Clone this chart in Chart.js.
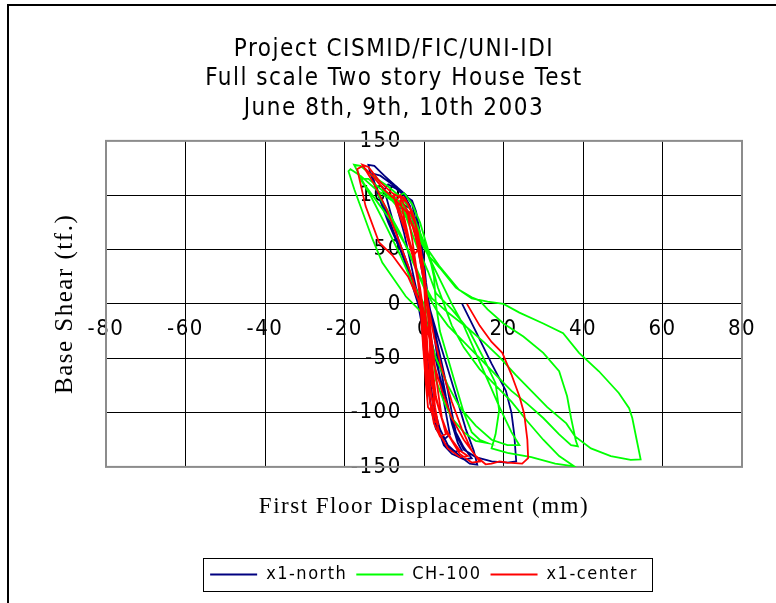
<!DOCTYPE html>
<html>
<head>
<meta charset="utf-8">
<script src="https://cdn.jsdelivr.net/npm/chart.js@4.4.1/dist/chart.umd.min.js"></script>
<style>
  body { margin: 0; background: #fff; }
  #wrap { position: relative; width: 776px; height: 603px; overflow: hidden; background: #fff; }
  #hysteresis { position: absolute; left: 0; top: 0; }
  #frame { position: absolute; left: 7px; top: 4px; width: 800px; height: 700px;
           border-left: 2px solid #000; border-top: 2px solid #000; }
</style>
</head>
<body>
<div id="wrap">
  <canvas id="hysteresis" width="776" height="603"></canvas>
  <div id="frame"></div>
</div>
<script>
// hysteresis loops: displacement (mm) vs base shear (tf)
const northX = [9.6, 13, 17, 20.6, 22, 22.7, 23.2, 21, 17, 13, 10, 8, 6, 3.5, 1.5, -1, -3, -6, -9, -11.5,
  -13.5, -14, -12.5, -10, -7, -4.5, -3, -2, -1.5, -0.5, 0.5, 1.5, 3.5, 6, 8.5, 10.5, 12.5, 13.4, 11.5, 9,
  6, 4, 2.5, 1.5, 0.5, -0.5, -2, -4, -6.5, -8.5, -10, -9, -7, -5, -3.5, -2.5, -1.2, 0, 1, 2.5,
  4, 5.5, 7, 8.5, 9.5, 7.5, 5, 3, 1.5, 0.8, 0, -1, -2, -3.5, -5, -6.5, -5.5, -3.5, -2, -1,
  0, 0.8, 2, 3, 4, 5.5, 6.5, 5, 3, 2, 1, 0, -0.5, -1.5,
  -4, -7, -10, -12.5, -13, -11, -8, -5, -3, -2, -1, 0, 0.5, 1.5, 3, 4.5, 6, 7, 8, 10,
  12, 10, 7, 5, 4, 3, 2, 1, 0.3, -0.5, -2, -3];
const northY = [0, -25, -55, -80, -100, -120, -145, -146, -145, -141, -134, -120, -95, -60, -28, 5, 25, 50, 75, 100,
  120, 128, 127, 118, 108, 100, 92, 75, 60, 35, 15, -5, -30, -60, -90, -115, -135, -148, -147, -140,
  -130, -115, -95, -70, -40, -15, 10, 35, 60, 85, 105, 110, 106, 100, 90, 70, 45, 20, 0, -25,
  -55, -85, -110, -128, -135, -136, -128, -112, -90, -60, -30, -5, 15, 40, 65, 85, 92, 88, 78, 60,
  35, 10, -15, -40, -70, -100, -120, -125, -115, -100, -75, -45, -20, 0,
  30, 60, 90, 112, 120, 118, 110, 100, 95, 85, 65, 40, 20, -5, -30, -55, -80, -100, -118, -132,
  -142, -143, -138, -130, -120, -105, -85, -60, -35, -10, 10, 25];

const ch100X = [0, -4.6, -8, -10.5, -13, -15.5, -17.5, -19, -18.5, -16,
  -12, -8, -5, -2.5, -0.5, 1, 4, 8, 12, 16,
  20, 24, 30, 35, 39, 44, 49, 51.6, 52.4, 53.5, 54.5,
  52, 47, 42, 38, 35.8, 31, 27, 23, 19, 15,
  10.6, 6, 2, -1, -4, -8, -12, -15, -17.6, -16,
  -13, -9, -5.5, -3, -2, 0.4, 3.8, 8.8, 12, 14,
  16, 20, 25, 30, 34, 36, 37, 38.2, 38.7, 37,
  34, 30, 26, 22, 18, 14, 10, 6, 3, 0,
  -3, -6, -9, -11.5, -10, -7, -4, -2, 0, 2,
  3.5, 5, 7, 10, 14, 18, 22, 26, 30, 34,
  37.8, 33, 27, 21, 17, 18, 18.9, 18, 15, 11.3,
  7, 3, 1, -2, -4.5, -6, -5, -3, -1, 1,
  2.5, 3, 4, 6, 8, 10, 12, 14, 16, 13,
  10, 7, 5, 3, 2, 1, 0,
  -3, -6, -10, -13.5, -16, -14, -10, -6, -3, -1, 1, 3, 5, 7, 10, 13, 16, 19, 22, 24,
  21, 17, 13, 9, 6, 3, 1, 0];
const ch100Y = [-10, 7, 25, 38, 60, 85, 105, 122, 124, 118,
  105, 95, 82, 70, 55, 45, 33, 15, 5, 2,
  0, -8, -18, -27, -45, -62, -82, -96, -105, -125, -143,
  -143.5, -140, -133, -122, -110, -95, -80, -65, -49, -35,
  -21, -8, 5, 25, 50, 75, 95, 110, 128, 127,
  118, 108, 97, 85, 75, 53, 35, 13, 6, 3,
  -5, -18, -30, -45, -62, -85, -105, -126, -131, -130,
  -120, -105, -92, -80, -65, -50, -35, -20, -5, 15,
  40, 65, 85, 100, 104, 97, 85, 72, 55, 35,
  15, 0, -20, -40, -60, -75, -90, -108, -125, -140,
  -149.5, -147, -141, -137, -133, -120, -98, -73, -50, -24,
  -5, 10, 30, 55, 80, 100, 102, 92, 75, 50,
  25, 0, -25, -50, -75, -100, -118, -125, -128, -126,
  -118, -105, -90, -70, -40, -10, 0,
  20, 45, 75, 100, 115, 115, 103, 90, 75, 60, 45, 30, 15, 0, -20, -45, -70, -95, -118, -130,
  -130, -125, -112, -95, -75, -50, -25, 0];

const centerX = [10.8, 14, 17, 19.7, 22, 24, 25.2, 26, 26.2, 24.7,
  21, 19, 17, 15.5, 13, 10, 7, 4.5, 2.5, 1,
  -1, -4, -8, -11.3, -14.7, -16.8, -15.5, -13, -10, -7,
  -4.5, -2.5, -1, 0, 1, 2.5, 4.5, 7, 9.5, 12,
  14, 12, 9, 6, 4, 2, 1, 0, -1.5, -3.5,
  -6.5, -9.5, -12.5, -15.5, -14, -11, -8, -6, -4, -2,
  -0.5, 0.5, 1.5, 2.5, 3.5, 4.5, 5.5, 4, 2.5, 1.5,
  0.8, 0, -0.5, -1.5, -3, -5, -7, -6, -4, -2.5,
  -1, 0, 0.8, 1.5, 2, 2.5, 2, 1, 0.5, 0,
  -0.5, -1, -2, -3, -4, -3.5, -2, -1, 0, 1,
  1.5, 1.5, 1, 0.5, 0, -0.5, -1.5, -2.5, -1.5, 0,
  0.5, 1, 0.5, 0,
  -1, -2.5, -5, -7, -7.6, -5, -3, -1.5, -0.5, 0.3, 1, 1.5, 2, 2.8, 3.5, 2.5, 1.5, 0.8, 0.3, -0.3,
  -1, -2, -3.5, -5, -6, -4.5, -2.5, -1, 0, 0.8, 1.5, 2.2, 3, 4, 5, 7, 9, 11, 9, 6,
  4, 2.5, 1.5, 0.5, 0, -1.5, -3];
const centerY = [0, -20, -35, -45, -65, -85, -101, -125, -142, -147,
  -146, -145, -147, -147.6, -140, -125, -105, -80, -55, -25,
  0, 25, 45, 56.5, 90, 124, 127, 118, 105, 95,
  85, 70, 50, 25, 0, -30, -60, -90, -115, -135,
  -145, -146, -138, -120, -100, -75, -45, -20, 5, 30,
  60, 88, 110, 128, 126, 112, 102, 98, 85, 60,
  35, 10, -20, -50, -80, -105, -120, -122, -110, -90,
  -60, -30, 0, 25, 50, 75, 95, 100, 92, 78,
  55, 30, 5, -25, -55, -85, -100, -95, -75, -50,
  -25, 5, 35, 60, 80, 85, 72, 50, 25, 0,
  -30, -65, -80, -60, -35, -10, 20, 45, 50, 20,
  -15, -50, -40, -10,
  15, 40, 70, 90, 100, 98, 85, 65, 40, 15, -10, -40, -70, -95, -110, -108, -90, -65, -40, -15,
  10, 30, 55, 80, 95, 95, 80, 55, 30, 0, -30, -60, -85, -100, -112, -125, -135, -140, -141, -133,
  -120, -100, -75, -45, -20, 5, 25];

const seriesNames = ['x1-north', 'CH-100', 'x1-center'];
const seriesColors = ['#000080', '#00ff00', '#ff0000'];
const titleLines = ['Project CISMID/FIC/UNI-IDI', 'Full scale Two story House Test', 'June 8th, 9th, 10th 2003'];

const NARROW = "'Liberation Sans Narrow', 'DejaVu Sans Condensed', 'Liberation Sans', sans-serif";
const SERIF = "'Liberation Serif', 'DejaVu Serif', serif";

function toPoints(xs, ys) {
  return xs.map((x, i) => ({ x: x, y: ys[i] }));
}

function lineSet(i, xs, ys, order) {
  return {
    label: seriesNames[i],
    data: toPoints(xs, ys),
    borderColor: seriesColors[i],
    backgroundColor: seriesColors[i],
    borderWidth: 1.8,
    showLine: true,
    fill: false,
    pointRadius: 0,
    tension: 0,
    order: order
  };
}

//frames round the plot and the legend, plus the spaced-out lettering
const extras = {
  id: 'extras',
  beforeLayout(chart) { chart.ctx.letterSpacing = '1.5px'; },
  beforeDraw(chart) { chart.ctx.letterSpacing = '1.5px'; },
  beforeDatasetsDraw(chart) {
    const { ctx, chartArea: a } = chart;
    ctx.save();
    ctx.strokeStyle = '#8c8c8c';
    ctx.lineWidth = 2;
    ctx.strokeRect(a.left, a.top, a.right - a.left, a.bottom - a.top);
    ctx.restore();
  },
  afterDraw(chart) {
    const hb = chart.legend.legendHitBoxes;
    if (!hb || !hb.length) return;
    const left = Math.min(...hb.map(b => b.left)) - 7;
    const right = Math.max(...hb.map(b => b.left + b.width)) + 14;
    const mid = hb[0].top + hb[0].height / 2;
    const ctx = chart.ctx;
    ctx.save();
    ctx.strokeStyle = '#000';
    ctx.lineWidth = 1;
    ctx.strokeRect(Math.round(left) + 0.5, Math.round(mid - 16.5) + 0.5, Math.round(right - left), 33);
    ctx.restore();
  }
};

const tickFont = { family: NARROW, size: 22 };

new Chart(document.getElementById('hysteresis'), {
  type: 'scatter',
  data: {
    datasets: [
      lineSet(0, northX, northY, 3),
      lineSet(1, ch100X, ch100Y, 2),
      lineSet(2, centerX, centerY, 1)
    ]
  },
  options: {
    responsive: false,
    animation: false,
    layout: { padding: { left: 46, right: 34, top: 10, bottom: 9.5 } },
    scales: {
      x: {
        type: 'linear',
        position: { y: 0 },
        min: -80,
        max: 80,
        ticks: { stepSize: 20, color: '#000', padding: 4, maxRotation: 0, autoSkip: false, font: tickFont },
        grid: { color: '#000', lineWidth: 1, tickLength: 8, tickColor: '#000' },
        border: { color: '#000', width: 1 }
      },
      y: {
        type: 'linear',
        // labels sit a little left of the x = 0 line
        position: { x: -5.6 },
        min: -150,
        max: 150,
        ticks: { stepSize: 50, color: '#000', font: tickFont },
        grid: { color: '#000', lineWidth: 1, drawTicks: false },
        border: { display: false }
      },
      yTitle: {
        type: 'linear',
        position: 'left',
        ticks: { display: false },
        grid: { display: false },
        border: { display: false },
        title: {
          display: true,
          text: 'Base Shear (tf.)',
          color: '#000',
          font: { family: SERIF, size: 25 },
          padding: { top: 4, bottom: 0 }
        },
        afterFit(scale) { scale.width = 60; }
      }
    },
    plugins: {
      title: {
        display: true,
        text: titleLines,
        color: '#000',
        font: { family: NARROW, size: 24, weight: 'normal', lineHeight: 1.24 },
        padding: { top: 24.6, bottom: 17 }
      },
      subtitle: {
        display: true,
        position: 'bottom',
        text: 'First Floor Displacement (mm)',
        fullSize: false,
        weight: 500,
        color: '#000',
        font: { family: SERIF, size: 23, weight: 'normal' },
        padding: { top: 26, bottom: 36 }
      },
      legend: {
        position: 'bottom',
        fullSize: false,
        labels: {
          usePointStyle: true,
          pointStyle: 'line',
          pointStyleWidth: 47,
          color: '#000',
          padding: 9,
          font: { family: NARROW, size: 18 },
          sort: (a, b) => a.datasetIndex - b.datasetIndex
        }
      },
      tooltip: { enabled: false }
    }
  },
  plugins: [extras]
});
</script>
</body>
</html>
